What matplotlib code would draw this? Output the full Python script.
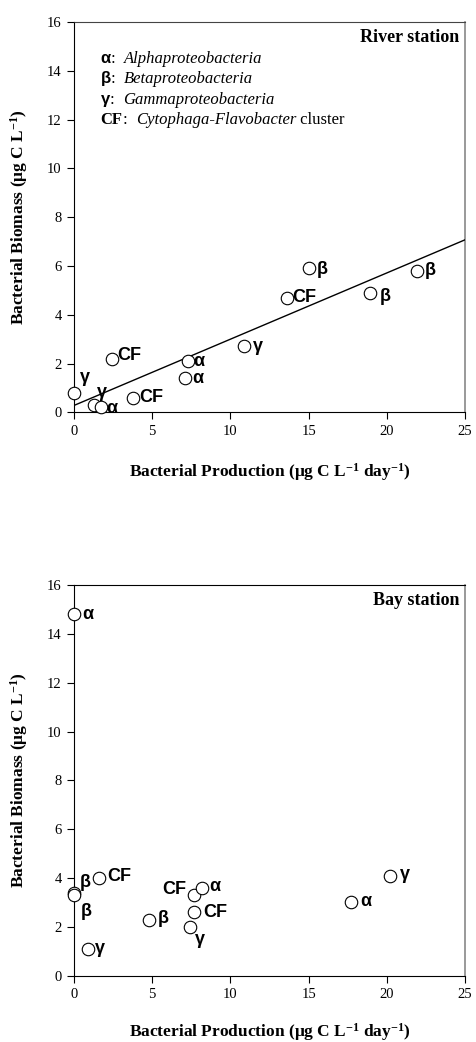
import matplotlib
matplotlib.use('Agg')
import matplotlib.pyplot as plt
import numpy as np
from matplotlib.offsetbox import TextArea, HPacker, AnnotationBbox

plt.rcParams['font.family'] = ['Liberation Serif', 'DejaVu Sans']
plt.rcParams['mathtext.fontset'] = 'custom'
plt.rcParams['mathtext.rm'] = 'Liberation Serif:bold'
plt.rcParams['mathtext.it'] = 'Liberation Serif:italic:bold'
plt.rcParams['mathtext.bf'] = 'Liberation Serif:bold'

# River station
river_prod = [0.0, 1.3, 1.7, 2.4, 3.8, 7.3, 7.1, 10.9, 13.6, 15.0, 18.9, 21.9]
river_biom = [0.8, 0.3, 0.2, 2.2, 0.6, 2.1, 1.4, 2.7, 4.7, 5.9, 4.9, 5.8]
river_group = ['γ', 'γ', 'α', 'CF', 'CF', 'α', 'α', 'γ', 'CF', 'β', 'β', 'β']

# Bay station
bay_prod = [0.0, 0.0, 0.0, 1.6, 0.9, 4.8, 7.7, 8.2, 7.7, 7.4, 17.7, 20.2]
bay_biom = [14.8, 3.4, 3.3, 4.0, 1.1, 2.3, 3.3, 3.6, 2.6, 2.0, 3.0, 4.1]
bay_group = ['α', 'β', 'β', 'CF', 'γ', 'β', 'CF', 'α', 'CF', 'γ', 'α', 'γ']

# label offsets (points) and alignment, same order as the data
river_offsets = [(4, 11), (2, 9), (4, -1), (4, 2), (4, 0), (4, 0),
                 (5, 0), (6, 0), (4, 0), (6, -1), (7, -3), (6, 0)]
bay_offsets = [(6, 0), (4, 7), (5, -12), (6, 1), (5, 0), (6, 1),
               (-6, 4), (5, 1), (6, 0), (4, -9), (7, 1), (7, 1)]
bay_ha = ['left'] * 6 + ['right'] + ['left'] * 5

xlabel = 'Bacterial Production (μg C L$^{-1}$ day$^{-1}$)'
ylabel = 'Bacterial Biomass (μg C L$^{-1}$)'

fig = plt.figure(figsize=(4.76, 10.42), dpi=100)
ax1 = fig.add_axes([0.1555, 0.6043, 0.8214, 0.3746])
ax2 = fig.add_axes([0.1555, 0.0636, 0.8214, 0.3750])


def style_axes(ax, top_color, xlab_y):
    ax.set_xlim(0, 25)
    ax.set_ylim(0, 16)
    ax.set_xticks(range(0, 26, 5))
    ax.set_yticks(range(0, 17, 2))
    ax.tick_params(direction='out', length=5, width=0.8, labelsize=10.5, pad=4)
    ax.spines['right'].set_color('#888888')
    ax.spines['right'].set_linewidth(1.2)
    ax.spines['top'].set_color(top_color)
    for s in ax.spines.values():
        s.set_zorder(0.5)
    ax.set_xlabel(xlabel, fontsize=12.5, fontweight='bold', va='center')
    ax.set_ylabel(ylabel, fontsize=12.5, fontweight='bold', va='center')
    ax.xaxis.set_label_coords(0.5, xlab_y)
    ax.yaxis.set_label_coords(-0.141, 0.5)


def draw_points(ax, xs, ys, groups, offsets, ha):
    ax.plot(xs, ys, 'o', ms=9, mfc='white', mec='black', mew=0.8,
            clip_on=False, zorder=3)
    for x, y, g, off, h in zip(xs, ys, groups, offsets, ha):
        ax.annotate(g, (x, y), xytext=off, textcoords='offset points',
                    ha=h, va='center', fontsize=13, fontweight='bold',
                    family='Liberation Sans')


# top panel
style_axes(ax1, '#444444', -0.153)
fit = np.polyfit(river_prod, river_biom, 1)
xx = np.array([0, 25])
ax1.plot(xx, np.polyval(fit, xx), color='black', lw=1.0, zorder=2)
draw_points(ax1, river_prod, river_biom, river_group, river_offsets,
            ['left'] * len(river_prod))
ax1.text(0.985, 0.96, 'River station', transform=ax1.transAxes,
         ha='right', va='center', fontsize=13, fontweight='bold')

fs = 12
sans_b = dict(family='Liberation Sans', fontweight='bold', fontsize=fs)
serif = dict(family='Liberation Serif', fontsize=fs)
serif_i = dict(family='Liberation Serif', fontsize=fs, style='italic')
serif_b = dict(family='Liberation Serif', fontsize=fs, fontweight='bold')
legend_lines = [
    [('α', sans_b), (':  ', serif), ('Alphaproteobacteria', serif_i)],
    [('β', sans_b), (':  ', serif), ('Betaproteobacteria', serif_i)],
    [('γ', sans_b), (':  ', serif), ('Gammaproteobacteria', serif_i)],
    [('CF', serif_b), (':  ', serif), ('Cytophaga-Flavobacter', serif_i),
     (' cluster', serif)],
]
legend_y = [14.5, 13.65, 12.8, 12.0]
for parts, ly in zip(legend_lines, legend_y):
    box = HPacker(children=[TextArea(t, textprops=p) for t, p in parts],
                  pad=0, sep=0, align='baseline')
    ab = AnnotationBbox(box, (1.7, ly), xycoords='data', box_alignment=(0, 0.5),
                        frameon=False, pad=0)
    ax1.add_artist(ab)

# bottom panel
style_axes(ax2, 'black', -0.143)
draw_points(ax2, bay_prod, bay_biom, bay_group, bay_offsets, bay_ha)
ax2.text(0.985, 0.96, 'Bay station', transform=ax2.transAxes,
         ha='right', va='center', fontsize=13, fontweight='bold')

fig.savefig('out.png', dpi=100)
